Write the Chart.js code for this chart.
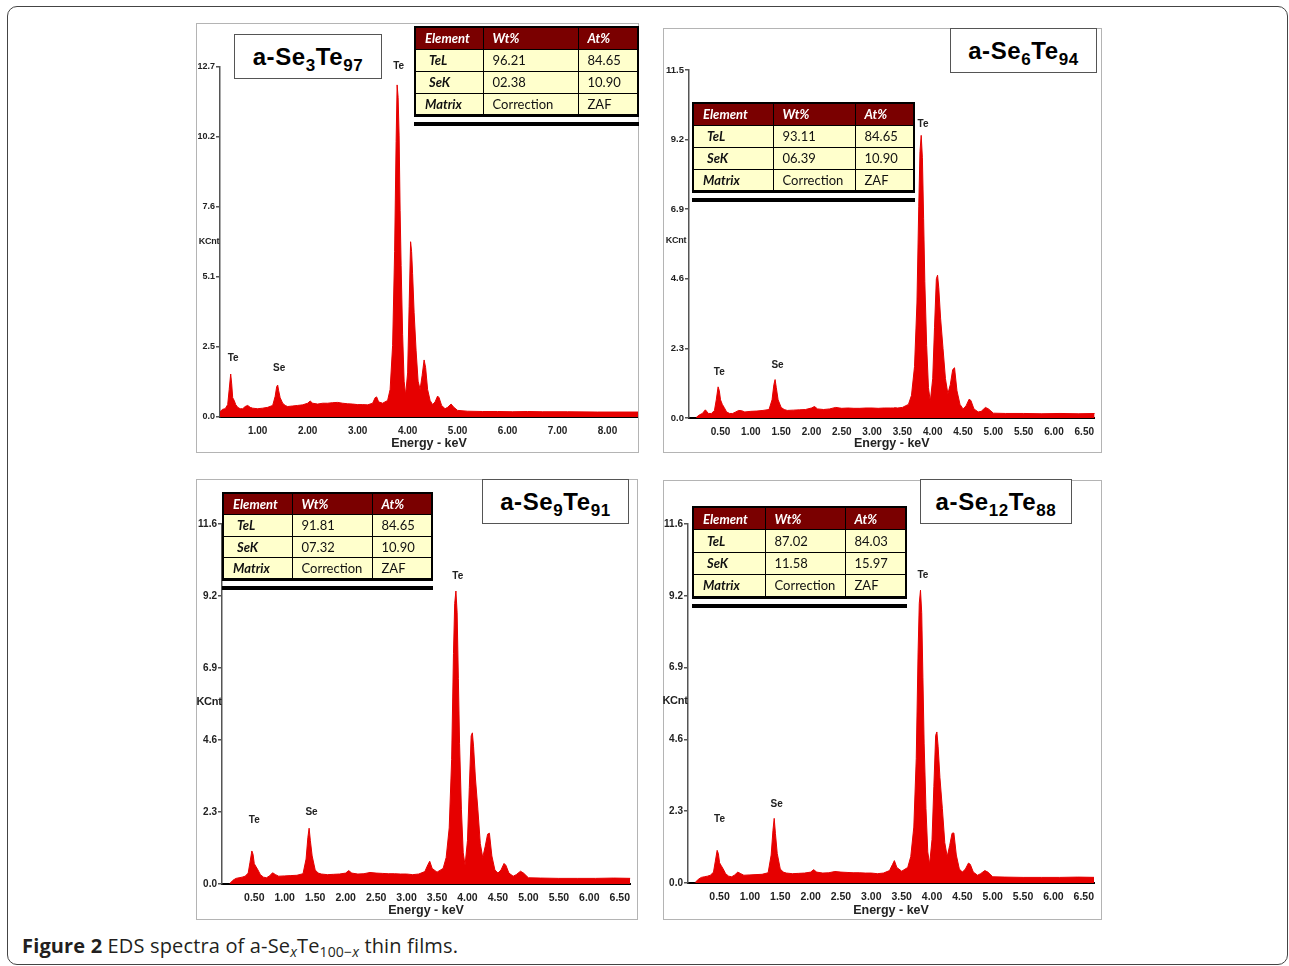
<!DOCTYPE html>
<html>
<head>
<meta charset="utf-8">
<title>EDS spectra of a-SexTe100-x thin films</title>
<script src="https://cdn.jsdelivr.net/npm/chart.js@4.4.1/dist/chart.umd.min.js"></script>
<style>
  body { margin: 0; background: #fff; width: 1289px; height: 966px; position: relative; overflow: hidden; }
  #frame { position: absolute; left: 7px; top: 6px; width: 1281px; height: 959px; border: 1.5px solid #444; border-radius: 10px; box-sizing: border-box; }
  .plot { position: absolute; }
  .panel-border { position: absolute; border: 1.5px solid #b4b4b4; box-sizing: border-box; pointer-events: none; }
  .title-box { position: absolute; background: #fff; border: 1.5px solid #555; box-sizing: border-box; text-align: center;
               font: bold 24px 'Liberation Sans', Arial, sans-serif; letter-spacing: 0.6px; line-height: 42px; padding-top: 1px; color: #000; }
  .title-box sub { font-size: 17px; vertical-align: -6px; line-height: 0; }
  .kcnt { position: absolute; font: bold 9px 'Liberation Sans Narrow', 'Liberation Sans', sans-serif; color: #222; transform: translate(-50%, -50%); letter-spacing: -0.3px; }
  table.eds { position: absolute; border-collapse: collapse; table-layout: fixed; border: 2px solid #000; border-bottom-width: 3px;
              font: 13px Lato, 'Open Sans', sans-serif; color: #111; }
  table.eds td { border: 1px solid #000; padding: 0 0 0 9px; background: #ffffcc; white-space: nowrap; }
  table.eds tr.head td { background: #7a0000; color: #fff; font-weight: bold; font-style: italic; }
  table.eds td.el { font-weight: bold; font-style: italic; }
  .bar { position: absolute; height: 4px; background: #000; }
  #caption { position: absolute; left: 22px; top: 936px; font: 20px 'Open Sans', sans-serif; letter-spacing: 0.15px; line-height: 20px; color: #231f20; white-space: nowrap; }
  #caption sub { font-size: 14px; vertical-align: -4px; line-height: 0; }
</style>
</head>
<body>
<div id="frame"></div>
<div id="caption"><b>Figure 2</b> EDS spectra of a-Se<sub><i>x</i></sub>Te<sub>100&minus;<i>x</i></sub> thin films.</div>

<script>
// Energy grid (keV) shared by all four spectra
const energy = [
  0.10, 0.15, 0.20, 0.25, 0.30, 0.35, 0.40, 0.43, 0.46, 0.48, 0.50, 0.53, 0.56, 0.60, 0.65, 0.70, 0.75, 0.80, 0.85, 0.90,
  1.00, 1.10, 1.20, 1.30, 1.35, 1.38, 1.40, 1.42, 1.45, 1.50, 1.55, 1.60, 1.70, 1.80, 1.90, 2.00, 2.05, 2.10, 2.20, 2.30,
  2.40, 2.50, 2.60, 2.70, 2.80, 2.90, 3.00, 3.10, 3.20, 3.30, 3.35, 3.38, 3.42, 3.50, 3.60, 3.65, 3.70, 3.74, 3.77, 3.79,
  3.81, 3.83, 3.85, 3.87, 3.90, 3.93, 3.96, 4.00, 4.03, 4.06, 4.08, 4.10, 4.13, 4.17, 4.21, 4.25, 4.29, 4.33, 4.36, 4.40,
  4.45, 4.50, 4.55, 4.60, 4.63, 4.68, 4.75, 4.80, 4.87, 4.92, 5.00, 5.20, 5.50, 5.80, 6.10, 6.40, 6.70, 7.20, 7.80, 8.70
];

// Counts (KCnt)
const countsSe3Te97 = [
  0.00, 0.00, 0.05, 0.20, 0.28, 0.30, 0.45, 1.00, 1.56, 1.20, 0.70, 0.60, 0.45, 0.35, 0.30, 0.30, 0.38, 0.42, 0.35, 0.32,
  0.30, 0.32, 0.35, 0.42, 0.75, 1.10, 1.16, 0.95, 0.70, 0.50, 0.42, 0.38, 0.40, 0.42, 0.44, 0.50, 0.58, 0.50, 0.47, 0.50,
  0.50, 0.52, 0.53, 0.50, 0.48, 0.47, 0.45, 0.45, 0.44, 0.50, 0.70, 0.73, 0.55, 0.50, 0.60, 1.00, 2.60, 6.00, 10.00, 12.05,
  11.60, 10.20, 7.50, 5.50, 3.00, 1.30, 0.80, 1.60, 4.00, 6.36, 6.00, 5.20, 3.80, 2.40, 1.30, 1.00, 1.50, 2.07, 1.80, 1.00,
  0.60, 0.45, 0.55, 0.76, 0.70, 0.42, 0.30, 0.35, 0.47, 0.36, 0.24, 0.21, 0.20, 0.20, 0.19, 0.20, 0.19, 0.19, 0.18, 0.18
];
const countsSe6Te94 = [
  0.02, 0.10, 0.15, 0.27, 0.15, 0.15, 0.25, 0.60, 1.03, 0.90, 0.60, 0.45, 0.35, 0.20, 0.15, 0.15, 0.20, 0.25, 0.24, 0.20,
  0.22, 0.23, 0.25, 0.28, 0.60, 1.10, 1.27, 1.00, 0.60, 0.35, 0.28, 0.25, 0.26, 0.27, 0.28, 0.33, 0.38, 0.30, 0.28, 0.30,
  0.35, 0.32, 0.33, 0.32, 0.32, 0.33, 0.33, 0.32, 0.33, 0.33, 0.33, 0.34, 0.33, 0.35, 0.45, 0.75, 1.70, 3.80, 7.00, 8.80,
  9.34, 8.60, 6.60, 4.50, 2.40, 1.00, 0.55, 1.30, 3.00, 4.60, 4.72, 4.30, 3.30, 2.30, 1.30, 0.80, 1.10, 1.60, 1.66, 0.90,
  0.45, 0.30, 0.40, 0.62, 0.58, 0.30, 0.20, 0.22, 0.35, 0.30, 0.16, 0.15, 0.15, 0.14, 0.15, 0.14, 0.15, 0.14, 0.14, 0.14
];
const countsSe9Te91 = [
  0.02, 0.12, 0.18, 0.20, 0.22, 0.25, 0.35, 0.70, 1.06, 0.95, 0.65, 0.55, 0.45, 0.30, 0.22, 0.20, 0.26, 0.36, 0.30, 0.25,
  0.26, 0.27, 0.28, 0.33, 0.80, 1.50, 1.79, 1.40, 0.90, 0.45, 0.35, 0.32, 0.30, 0.31, 0.32, 0.35, 0.43, 0.35, 0.32, 0.33,
  0.37, 0.35, 0.34, 0.33, 0.33, 0.32, 0.32, 0.30, 0.32, 0.40, 0.62, 0.73, 0.50, 0.38, 0.50, 0.85, 1.80, 4.00, 7.40, 9.00,
  9.40, 8.70, 6.60, 4.50, 2.40, 1.00, 0.60, 1.40, 3.10, 4.75, 4.85, 4.40, 3.40, 2.40, 1.30, 0.85, 1.20, 1.60, 1.63, 0.90,
  0.45, 0.35, 0.45, 0.66, 0.60, 0.35, 0.25, 0.30, 0.41, 0.35, 0.20, 0.19, 0.18, 0.18, 0.18, 0.19, 0.18, 0.18, 0.18, 0.18
];
const countsSe12Te88 = [
  0.02, 0.12, 0.18, 0.20, 0.22, 0.25, 0.35, 0.70, 1.05, 0.95, 0.65, 0.55, 0.45, 0.30, 0.22, 0.20, 0.26, 0.35, 0.30, 0.25,
  0.26, 0.27, 0.28, 0.33, 0.90, 1.70, 2.08, 1.60, 0.95, 0.45, 0.35, 0.32, 0.30, 0.31, 0.32, 0.35, 0.43, 0.35, 0.32, 0.33,
  0.37, 0.35, 0.34, 0.33, 0.33, 0.32, 0.32, 0.30, 0.32, 0.40, 0.60, 0.72, 0.50, 0.38, 0.50, 0.85, 1.80, 4.00, 7.40, 9.00,
  9.42, 8.70, 6.60, 4.50, 2.40, 1.00, 0.60, 1.40, 3.10, 4.75, 4.86, 4.40, 3.40, 2.40, 1.30, 0.85, 1.20, 1.60, 1.61, 0.90,
  0.45, 0.35, 0.45, 0.64, 0.60, 0.35, 0.25, 0.30, 0.40, 0.35, 0.20, 0.19, 0.18, 0.18, 0.18, 0.19, 0.18, 0.18, 0.18, 0.18
];

// Tick values and labels
const xTicksWide = [1, 2, 3, 4, 5, 6, 7, 8];
const xLabelsWide = ['1.00', '2.00', '3.00', '4.00', '5.00', '6.00', '7.00', '8.00'];
const xTicksNarrow = [0.5, 1, 1.5, 2, 2.5, 3, 3.5, 4, 4.5, 5, 5.5, 6, 6.5];
const xLabelsNarrow = ['0.50', '1.00', '1.50', '2.00', '2.50', '3.00', '3.50', '4.00', '4.50', '5.00', '5.50', '6.00', '6.50'];
const yTicks127 = [0, 2.54, 5.08, 7.62, 10.16, 12.7];
const yLabels127 = ['0.0', '2.5', '5.1', '7.6', '10.2', '12.7'];
const yTicks115 = [0, 2.3, 4.6, 6.9, 9.2, 11.5];
const yLabels115 = ['0.0', '2.3', '4.6', '6.9', '9.2', '11.5'];
const yTicks116 = [0, 2.31, 4.62, 6.93, 9.24, 11.55];
const yLabels116 = ['0.0', '2.3', '4.6', '6.9', '9.2', '11.6'];

// Composition tables
const elements = ['TeL', 'SeK'];
const wtSe3Te97 = ['96.21', '02.38'];
const atSe3Te97 = ['84.65', '10.90'];
const wtSe6Te94 = ['93.11', '06.39'];
const atSe6Te94 = ['84.65', '10.90'];
const wtSe9Te91 = ['91.81', '07.32'];
const atSe9Te91 = ['84.65', '10.90'];
const wtSe12Te88 = ['87.02', '11.58'];
const atSe12Te88 = ['84.03', '15.97'];

const NARROW = "'Liberation Sans Narrow', 'Liberation Sans', Arial, sans-serif";
const RED = '#e60000';

const panels = [
  { box: [196, 23, 443, 430], yw: 24, xh: 36, top: 44, right: 1, xMin: 0.246, xMax: 8.61, yMax: 12.7,
    counts: countsSe3Te97, xTicks: xTicksWide, xLabels: xLabelsWide, yTicks: yTicks127, yLabels: yLabels127,
    se: '3', te: '97', title: [234, 34, 148, 45],
    wt: wtSe3Te97, at: atSe3Te97, table: [414, 26], cols: [68, 95, 60], rowH: 22,
    kcnt: [209, 241, 9], tickFont: 10, yFont: 9,
    peaks: [{ t: 'Te', e: 3.82, k: 12.74 }, { t: 'Te', e: 0.51, k: 2.14 }, { t: 'Se', e: 1.43, k: 1.78 }] },
  { box: [663, 28, 439, 425], yw: 26, xh: 35, top: 42, right: 0, xMin: -0.02, xMax: 6.67, yMax: 11.5,
    counts: countsSe6Te94, xTicks: xTicksNarrow, xLabels: xLabelsNarrow, yTicks: yTicks115, yLabels: yLabels115,
    se: '6', te: '94', title: [950, 28, 147, 45],
    wt: wtSe6Te94, at: atSe6Te94, table: [692, 102], cols: [80, 82, 59], rowH: 22,
    kcnt: [676, 240, 9], tickFont: 10, yFont: 9.5,
    peaks: [{ t: 'Te', e: 3.84, k: 9.72 }, { t: 'Te', e: 0.48, k: 1.51 }, { t: 'Se', e: 1.44, k: 1.75 }] },
  { box: [196, 479, 442, 441], yw: 26, xh: 36, top: 45, right: 0, xMin: -0.03, xMax: 6.67, yMax: 11.55,
    counts: countsSe9Te91, xTicks: xTicksNarrow, xLabels: xLabelsNarrow, yTicks: yTicks116, yLabels: yLabels116,
    se: '9', te: '91', title: [482, 479, 147, 45],
    wt: wtSe9Te91, at: atSe9Te91, table: [222, 492], cols: [69, 80, 60], rowH: 21.5,
    kcnt: [209, 701, 11], tickFont: 10.5, yFont: 10,
    peaks: [{ t: 'Te', e: 3.84, k: 9.87 }, { t: 'Te', e: 0.50, k: 2.06 }, { t: 'Se', e: 1.44, k: 2.29 }] },
  { box: [663, 480, 439, 440], yw: 25, xh: 37, top: 44, right: 0, xMin: -0.02, xMax: 6.67, yMax: 11.55,
    counts: countsSe12Te88, xTicks: xTicksNarrow, xLabels: xLabelsNarrow, yTicks: yTicks116, yLabels: yLabels116,
    se: '12', te: '88', title: [920, 479, 152, 45],
    wt: wtSe12Te88, at: atSe12Te88, table: [692, 506], cols: [72, 80, 61], rowH: 22.5,
    kcnt: [675, 700, 11], tickFont: 10.5, yFont: 10,
    peaks: [{ t: 'Te', e: 3.85, k: 9.89 }, { t: 'Te', e: 0.50, k: 2.04 }, { t: 'Se', e: 1.44, k: 2.53 }] }
];

// Draws the small element labels above the peaks
const peakLabels = {
  id: 'peakLabels',
  afterDatasetsDraw(chart, args, opts) {
    const { ctx, scales: { x, y } } = chart;
    ctx.save();
    ctx.font = 'bold 10px ' + NARROW;
    ctx.fillStyle = '#222';
    ctx.textAlign = 'center';
    ctx.textBaseline = 'middle';
    (opts.items || []).forEach(p => ctx.fillText(p.t, x.getPixelForValue(p.e), y.getPixelForValue(p.k)));
    ctx.restore();
  }
};

function addDiv(cls, box, html) {
  const d = document.createElement('div');
  d.className = cls;
  d.style.left = box[0] + 'px';
  d.style.top = box[1] + 'px';
  if (box[2] !== undefined) d.style.width = box[2] + 'px';
  if (box[3] !== undefined) d.style.height = box[3] + 'px';
  if (html) d.innerHTML = html;
  document.body.appendChild(d);
  return d;
}

function buildTable(p) {
  const t = document.createElement('table');
  t.className = 'eds';
  t.style.left = p.table[0] + 'px';
  t.style.top = p.table[1] + 'px';
  const cg = document.createElement('colgroup');
  p.cols.forEach(w => { const c = document.createElement('col'); c.style.width = w + 'px'; cg.appendChild(c); });
  t.appendChild(cg);
  const rows = [['Element', 'Wt%', 'At%']];
  elements.forEach((el, i) => rows.push([el, p.wt[i], p.at[i]]));
  rows.push(['Matrix', 'Correction', 'ZAF']);
  rows.forEach((r, i) => {
    const tr = document.createElement('tr');
    if (i === 0) tr.className = 'head';
    tr.style.height = p.rowH + 'px';
    r.forEach((v, j) => {
      const td = document.createElement('td');
      td.textContent = v;
      if (j === 0 && i > 0) {
        td.className = 'el';
        if (i <= elements.length) td.style.paddingLeft = '13px';
      }
      tr.appendChild(td);
    });
    t.appendChild(tr);
  });
  document.body.appendChild(t);
  const width = p.cols.reduce((a, b) => a + b, 0) + 2;
  const bottom = p.table[1] + t.offsetHeight;
  addDiv('bar', [p.table[0], bottom + 5, width, 4]);
}

panels.forEach((p, i) => {
  const wrap = addDiv('plot', p.box);
  const canvas = document.createElement('canvas');
  wrap.appendChild(canvas);

  new Chart(canvas, {
    type: 'line',
    data: {
      datasets: [{
        data: energy.map((e, j) => ({ x: e, y: p.counts[j] })),
        borderColor: RED,
        backgroundColor: RED,
        borderWidth: 1,
        pointRadius: 0,
        tension: 0,
        fill: 'origin'
      }]
    },
    options: {
      responsive: true,
      maintainAspectRatio: false,
      animation: false,
      layout: { padding: { top: p.top, right: p.right, left: 0, bottom: 0 } },
      plugins: {
        legend: { display: false },
        tooltip: { enabled: false },
        peakLabels: { items: p.peaks }
      },
      scales: {
        x: {
          type: 'linear',
          min: p.xMin,
          max: p.xMax,
          z: 1,
          afterFit: s => { s.height = p.xh; },
          afterBuildTicks: s => { s.ticks = p.xTicks.map(v => ({ value: v })); },
          grid: { display: false, drawTicks: false },
          border: { display: true, color: '#000', width: 2 },
          ticks: {
            font: { family: NARROW, size: p.tickFont, weight: 'bold' }, color: '#222', padding: 8, maxRotation: 0, autoSkip: false,
            callback: (v, idx) => p.xLabels[idx]
          },
          title: {
            display: true, text: 'Energy - keV', color: '#222',
            font: { family: NARROW, size: 12.5, weight: 'bold' }, padding: { top: 0, bottom: 2 }
          }
        },
        y: {
          min: 0,
          max: p.yMax,
          afterFit: s => { s.width = p.yw; },
          afterBuildTicks: s => { s.ticks = p.yTicks.map(v => ({ value: v })); },
          grid: { drawOnChartArea: false, drawTicks: true, tickLength: 4, color: '#555', lineWidth: 1.5 },
          border: { display: true, color: '#555', width: 1.5 },
          ticks: {
            font: { family: NARROW, size: p.yFont, weight: 'bold' }, color: '#222', padding: 1,
            callback: (v, idx) => p.yLabels[idx]
          }
        }
      }
    },
    plugins: [peakLabels]
  });

  addDiv('panel-border', p.box);
  const k = addDiv('kcnt', [p.kcnt[0], p.kcnt[1]], 'KCnt');
  k.style.fontSize = p.kcnt[2] + 'px';
  addDiv('title-box', p.title, 'a-Se<sub>' + p.se + '</sub>Te<sub>' + p.te + '</sub>');
  buildTable(p);
});
</script>
</body>
</html>
